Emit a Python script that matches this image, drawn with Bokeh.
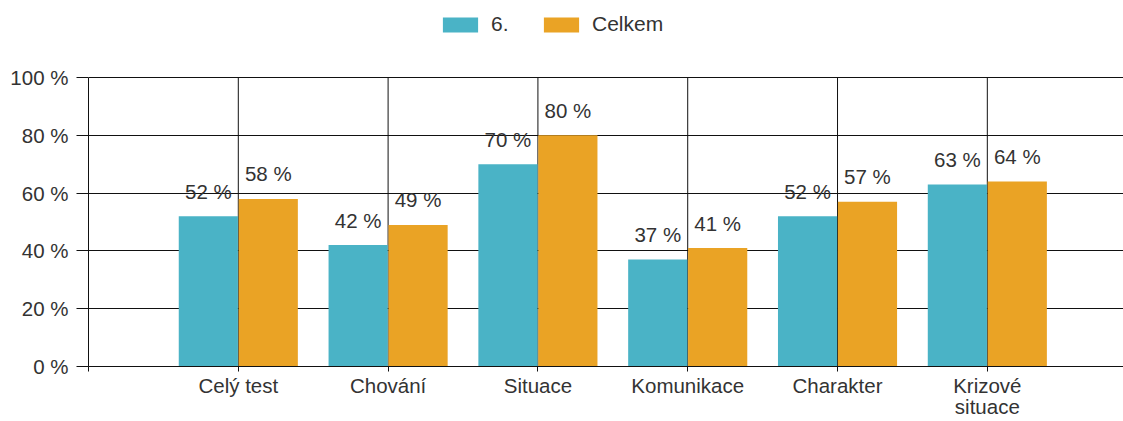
from bokeh.plotting import figure
from bokeh.models import ColumnDataSource, Legend, LegendItem, FixedTicker, Range1d
from bokeh.embed import file_html
from bokeh.resources import INLINE
from bokeh.core.properties import value

categories = ["Celý test", "Chování", "Situace", "Komunikace", "Charakter", "Krizové\nsituace"]
series_names = ["6.", "Celkem"]
values_6 = [52, 42, 70, 37, 52, 63]
values_celkem = [58, 49, 80, 41, 57, 64]
y_ticks = [0, 20, 40, 60, 80, 100]
y_tick_labels = ["0 %", "20 %", "40 %", "60 %", "80 %", "100 %"]

colors = ["#4AB3C6", "#EAA325"]
FONT = "Liberation Sans"
TXT = "#333333"
LINE = "#111111"
FS = "20.5px"

xs = [i + 1 for i in range(len(categories))]
off = 0.2
src6 = ColumnDataSource(dict(x=[x - off for x in xs], y=values_6,
                             lab=[f"{v} %" for v in values_6]))
srcC = ColumnDataSource(dict(x=[x + off for x in xs], y=values_celkem,
                             lab=[f"{v} %" for v in values_celkem]))

# the frame reaches the top of the canvas so that the legend above the 100 % line is not clipped
p = figure(width=1123, height=421, output_backend="svg", toolbar_location=None,
           x_range=Range1d(0, 6.909), y_range=Range1d(0, 126.64),
           min_border_left=88, min_border_top=0, min_border_bottom=55, min_border_right=0)
p.outline_line_color = None
p.background_fill_color = "white"

# vertical grid lines at the categories, from 0 to 100 %
p.segment(x0=xs, x1=xs, y0=[y_ticks[0]] * len(xs), y1=[y_ticks[-1]] * len(xs),
          line_color=LINE, line_width=1)

r6 = p.vbar(x="x", top="y", width=0.395, source=src6, fill_color=colors[0], line_color=None)
rC = p.vbar(x="x", top="y", width=0.395, source=srcC, fill_color=colors[1], line_color=None)

for s in (src6, srcC):
    p.text(x="x", y="y", text="lab", source=s, text_align="center", text_baseline="alphabetic",
           y_offset=-25, text_font=value(FONT), text_font_size=FS, text_color=TXT)

# axes
p.xaxis.ticker = FixedTicker(ticks=[0] + xs)
p.xaxis.major_label_overrides = {0: ""} | {x: c for x, c in zip(xs, categories)}
p.xaxis.major_tick_out = 5
p.xaxis.major_tick_in = 0
p.xaxis.minor_tick_line_color = None
p.xaxis.major_label_standoff = 2
p.xaxis.axis_line_color = LINE
p.xaxis.major_tick_line_color = LINE
p.xaxis.major_label_text_font = FONT
p.xaxis.major_label_text_font_size = FS
p.xaxis.major_label_text_color = TXT
p.xaxis.major_label_text_line_height = 0.95

p.yaxis.bounds = (y_ticks[0], y_ticks[-1])
p.yaxis.ticker = FixedTicker(ticks=y_ticks)
p.yaxis.major_label_overrides = {t: l for t, l in zip(y_ticks, y_tick_labels)}
p.yaxis.major_tick_out = 12
p.yaxis.major_tick_in = 0
p.yaxis.minor_tick_line_color = None
p.yaxis.major_label_standoff = 8
p.yaxis.axis_line_color = LINE
p.yaxis.major_tick_line_color = LINE
p.yaxis.major_label_text_font = FONT
p.yaxis.major_label_text_font_size = FS
p.yaxis.major_label_text_color = TXT

p.xgrid.grid_line_color = None
p.ygrid.ticker = FixedTicker(ticks=y_ticks)
p.ygrid.grid_line_color = LINE
p.ygrid.grid_line_alpha = 1

legend = Legend(items=[LegendItem(label=series_names[0], renderers=[r6]),
                       LegendItem(label=series_names[1], renderers=[rC])],
                orientation="horizontal", location=(350, 330),
                glyph_width=44, glyph_height=19, label_standoff=9, spacing=28,
                padding=0, margin=0, border_line_color=None, background_fill_alpha=0,
                label_text_font=FONT, label_text_font_size="21px", label_text_color=TXT,
                label_height=19)
p.add_layout(legend)

open("out.html", "w").write(file_html(p, INLINE))
